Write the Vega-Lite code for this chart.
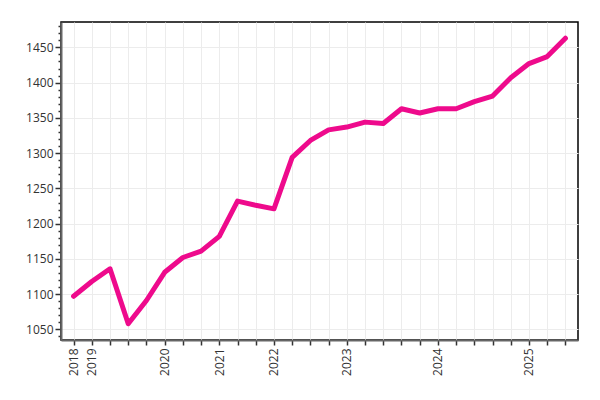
{
  "$schema": "https://vega.github.io/schema/vega-lite/v6.json",
  "width": 517,
  "height": 318,
  "autosize": {"type": "none"},
  "padding": {"left": 61, "top": 22, "right": 22, "bottom": 60},
  "data": {
    "values": [
      {"q": "2018", "v": 1097},
      {"q": "2019", "v": 1118},
      {"q": "2019b", "v": 1136},
      {"q": "2019c", "v": 1058},
      {"q": "2019d", "v": 1091},
      {"q": "2020", "v": 1131},
      {"q": "2020b", "v": 1152},
      {"q": "2020c", "v": 1161},
      {"q": "2021", "v": 1182},
      {"q": "2021b", "v": 1232},
      {"q": "2021c", "v": 1226},
      {"q": "2022", "v": 1221},
      {"q": "2022b", "v": 1294},
      {"q": "2022c", "v": 1318},
      {"q": "2022d", "v": 1333},
      {"q": "2023", "v": 1337},
      {"q": "2023b", "v": 1344},
      {"q": "2023c", "v": 1342},
      {"q": "2023d", "v": 1363},
      {"q": "2023e", "v": 1357},
      {"q": "2024", "v": 1363},
      {"q": "2024b", "v": 1363},
      {"q": "2024c", "v": 1373},
      {"q": "2024d", "v": 1381},
      {"q": "2024e", "v": 1407},
      {"q": "2025", "v": 1427},
      {"q": "2025b", "v": 1437},
      {"q": "2025c", "v": 1463}
    ]
  },
  "encoding": {
    "x": {
      "field": "q",
      "type": "ordinal",
      "sort": null,
      "scale": {"type": "point", "padding": 0.69},
      "axis": {
        "title": null,
        "labelAngle": -90,
        "labelAlign": "right",
        "labelBaseline": "middle",
        "labelExpr": "length(datum.label) == 4 ? datum.label : ''",
        "labelPadding": 3,
        "tickSize": 5,
        "tickWidth": 1.5,
        "tickColor": "#333",
        "domainColor": "#666",
        "domainWidth": 2,
        "grid": true,
        "gridColor": "#ececec",
        "labelFont": "Open Sans",
        "labelFontSize": 12,
        "labelColor": "#333"
      }
    },
    "y": {
      "field": "v",
      "type": "quantitative",
      "scale": {"domain": [1035, 1486], "nice": false, "zero": false}
    }
  },
  "layer": [
    {
      "mark": {"type": "rule", "opacity": 0},
      "encoding": {
        "y": {
          "field": "v",
          "type": "quantitative",
          "axis": {
            "orient": "left",
            "values": [1040, 1060, 1070, 1080, 1090, 1110, 1120, 1130, 1140, 1160, 1170, 1180, 1190, 1210, 1220, 1230, 1240, 1260, 1270, 1280, 1290, 1310, 1320, 1330, 1340, 1360, 1370, 1380, 1390, 1410, 1420, 1430, 1440, 1460, 1470, 1480],
            "labels": false,
            "title": null,
            "grid": false,
            "domain": false,
            "tickSize": 3,
            "tickWidth": 1.5,
            "tickColor": "#333"
          }
        }
      }
    },
    {
      "mark": {"type": "line", "color": "#ee0a8c", "strokeWidth": 5, "strokeCap": "round", "strokeJoin": "round"},
      "encoding": {
        "y": {
          "field": "v",
          "type": "quantitative",
          "axis": {
            "orient": "left",
            "values": [1050, 1100, 1150, 1200, 1250, 1300, 1350, 1400, 1450],
            "format": "d",
            "title": null,
            "tickSize": 6,
            "tickWidth": 1.5,
            "tickColor": "#333",
            "domainColor": "#666",
            "domainWidth": 2,
            "grid": true,
            "gridColor": "#ececec",
            "labelPadding": 2,
            "labelFont": "Open Sans",
            "labelFontSize": 12,
            "labelColor": "#333"
          }
        }
      }
    }
  ],
  "resolve": {"axis": {"y": "independent"}},
  "config": {
    "view": {"stroke": "#000", "strokeWidth": 1.5},
    "background": "white"
  }
}
